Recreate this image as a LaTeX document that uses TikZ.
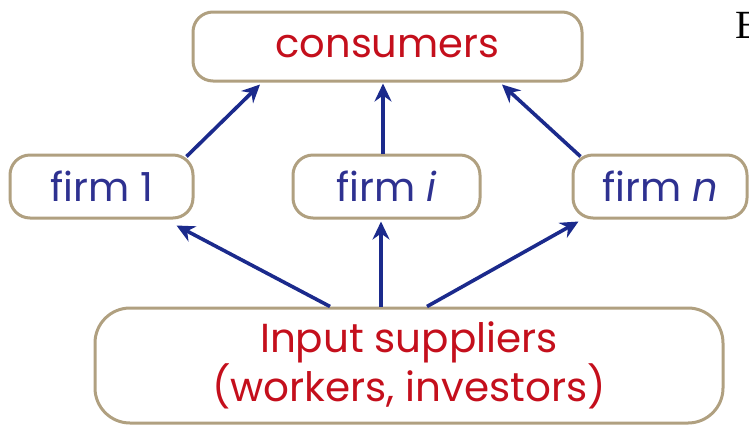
\documentclass[tikz,border=0pt]{standalone}
\usepackage{fontspec}
\setmainfont{Liberation Serif}
\newfontfamily\labelfont{Poppins}
\usetikzlibrary{arrows.meta}
\definecolor{boxline}{HTML}{B0A080}
\definecolor{flowblue}{HTML}{1B2A8C}
\definecolor{firmtext}{HTML}{2E3190}
\definecolor{agentred}{HTML}{C40F1C}
\begin{document}
\begin{tikzpicture}[x=1pt,y=-1pt,
  box/.style={draw=boxline, line width=3pt, rounded corners=20pt, inner sep=0pt},
  agent/.style={box, text=agentred, font=\labelfont\fontsize{40}{44}\selectfont},
  firmbox/.style={box, minimum height=63pt, text=firmtext, font=\labelfont\fontsize{40}{44}\selectfont},
  flow/.style={draw=flowblue, line width=3.6pt, -{Stealth[length=18pt,width=17pt,inset=6pt]}}]
\useasboundingbox (0,0) rectangle (749,424);

% agents and firms
\node[agent, minimum width=389pt, minimum height=69pt] (cons) at (387.5,46.5) {consumers};
\node[firmbox, minimum width=183pt] (f1) at (101.5,186.5) {firm 1};
\node[firmbox, minimum width=187pt] (fi) at (386.5,186.5) {firm \textit{i}};
\node[firmbox, minimum width=174pt] (fn) at (660,186.5) {firm \textit{n}};
\node[agent, rounded corners=35pt, minimum width=628pt, minimum height=115pt, align=center,
      font=\labelfont\fontsize{40.5}{43}\selectfont] (inp) at (409,365.5)
      {Input suppliers\\(workers, investors)};

% letter from the neighbouring text, cut off at the edge
\begin{scope}
  \clip (0,0) rectangle (749,424);
  \node[anchor=west, inner sep=0pt, font=\fontsize{40}{44}\selectfont] (edgeletter) at (735,25.5) {E};
\end{scope}

% goods flow to consumers
\draw[flow] ([xshift=-8pt,yshift=-3pt]f1.north east) -- ([xshift=-127.5pt,yshift=-2pt]cons.south);
\draw[flow] ([xshift=-3.5pt]fi.north) -- ([xshift=-3.5pt,yshift=-1pt]fi.north |- cons.south);
\draw[flow] ([xshift=9pt,yshift=-3pt]fn.north west) -- ([xshift=114.5pt,yshift=-2pt]cons.south);

% inputs flow to firms
\draw[flow] ([xshift=-79pt]inp.north) -- ([xshift=-18pt,yshift=-6pt]f1.south east);
\draw[flow] ([xshift=-28pt]inp.north) -- ([xshift=-28pt,yshift=-2pt]inp.north |- fi.south);
\draw[flow] ([xshift=18pt]inp.north) -- ([xshift=7pt,yshift=-2pt]fn.south west);
\end{tikzpicture}
\end{document}
